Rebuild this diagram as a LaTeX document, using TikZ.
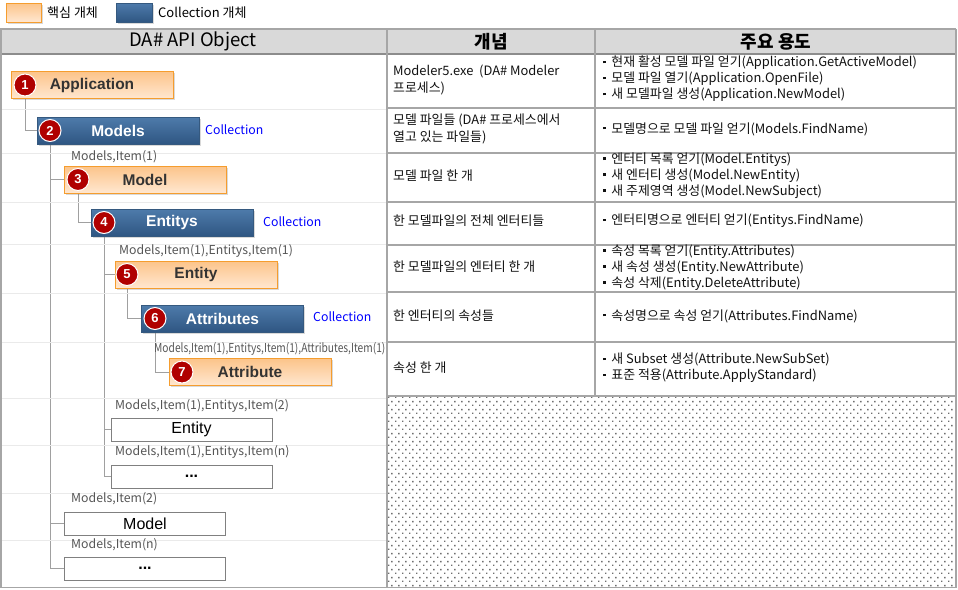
\documentclass[tikz,border=0pt]{standalone}
\usepackage{fontspec}
\usepackage{graphicx}
\setmainfont{Noto Sans CJK KR}
\newfontfamily\boxfont{Liberation Sans}
\usetikzlibrary{shadows,patterns,backgrounds}
\definecolor{orgB}{HTML}{F59D2E}
\definecolor{orgT}{HTML}{FCC48A}
\definecolor{orgBot}{HTML}{FFE7D0}
\definecolor{bluT}{HTML}{4E7BAB}
\definecolor{bluB}{HTML}{2F5682}
\definecolor{bluEdge}{HTML}{35597F}
\definecolor{numred}{HTML}{B00000}
\definecolor{linegray}{HTML}{A0A0A0}
\definecolor{tabline}{HTML}{A6A6A6}
\definecolor{hdrline}{HTML}{8C8C8C}
\definecolor{faint}{HTML}{EAEAEA}
\definecolor{hdr}{HTML}{D9D9D9}
\definecolor{pathgray}{HTML}{555555}
\definecolor{dotgray}{HTML}{6E6E6E}
\definecolor{txt}{HTML}{111111}
\definecolor{boxtxt}{HTML}{333333}
\definecolor{colblue}{HTML}{0000FF}
\pgfdeclarepatternformonly{tabledots}{\pgfqpoint{0pt}{0pt}}{\pgfqpoint{7.2pt}{7.6pt}}{\pgfqpoint{7.2pt}{7.6pt}}{%
  \pgfpathrectangle{\pgfqpoint{0pt}{0pt}}{\pgfqpoint{1.5pt}{1.5pt}}%
  \pgfpathrectangle{\pgfqpoint{3.6pt}{3.8pt}}{\pgfqpoint{1.5pt}{1.5pt}}%
  \pgfusepath{fill}}
\newcommand\blt{\rule[3.6pt]{2.7pt}{2.7pt}\hspace{5.5pt}}
\tikzset{
  corebox/.style={draw=orgB, line width=1pt, top color=orgT, bottom color=orgBot,
    minimum width=162pt, minimum height=27pt, inner sep=0pt,
    font=\boxfont\bfseries\fontsize{15.5}{18}\selectfont, text=boxtxt,
    drop shadow={shadow xshift=1.5pt, shadow yshift=-1.5pt, opacity=0.3}},
  collbox/.style={draw=bluEdge, line width=0.6pt, top color=bluT, bottom color=bluB,
    minimum width=162pt, minimum height=27pt, inner sep=0pt,
    font=\boxfont\bfseries\fontsize{15.5}{18}\selectfont, text=white,
    drop shadow={shadow xshift=1.5pt, shadow yshift=-1.5pt, opacity=0.3}},
  plainbox/.style={draw=gray, line width=1pt, fill=white,
    minimum width=161pt, minimum height=23pt, inner sep=0pt,
    font=\boxfont\fontsize{16}{18}\selectfont, text=black},
  numc/.style={circle, fill=numred, draw=white, line width=1pt, minimum size=22pt,
    inner sep=0pt, text=white, font=\boxfont\bfseries\fontsize{13}{13}\selectfont},
  conn/.style={draw=linegray, line width=1pt},
  pathlbl/.style={anchor=west, inner sep=0pt, text=pathgray, font=\fontsize{12.3}{13}\selectfont},
  colllbl/.style={anchor=west, inner sep=0pt, text=colblue, font=\fontsize{12.3}{14}\selectfont},
  cell/.style={anchor=west, inner sep=0pt, align=left, text=txt, font=\fontsize{12.9}{16}\selectfont},
  cellb/.style={anchor=west, inner sep=0pt, align=left, text=txt, font=\fontsize{12.9}{17}\selectfont},
  hdrtxt/.style={inner sep=0pt, text=black},
  legtxt/.style={anchor=west, inner sep=0pt, text=black, font=\fontsize{13}{14}\selectfont},
  tline/.style={draw=tabline, line width=1.5pt},
  fline/.style={draw=faint, line width=1pt}
}
\begin{document}
\begin{tikzpicture}[x=1pt,y=-1pt]
\useasboundingbox (0,0) rectangle (958,589);
% ---------- table ----------
\fill[hdr] (0,29) rectangle (956,54);
\fill[pattern=tabledots, pattern color=dotgray] (387,396) rectangle (956,587);
\foreach \yy in {109,153,202,244,293,342,398,445,493,540}{
  \draw[fline] (1,\yy) -- (386,\yy);
}
\foreach \yy in {108,153,202,245,292,342,396}{
  \draw[tline] (387,\yy) -- (956,\yy);
}
\draw[tline] (0,29) -- (956,29);
\draw[draw=hdrline, line width=1.5pt] (0,54) -- (956,54);
\draw[tline] (387,29) -- (387,588);
\draw[tline] (595,29) -- (595,396);
\draw[tline] (956,29) -- (956,588);
\draw[tline] (0.75,29) -- (0.75,588);
\draw[tline] (0,587.5) -- (956,587.5);
% header texts
\node[hdrtxt, font=\fontsize{18.5}{20}\selectfont] (h1) at (193,41.5) {DA\# API Object};
\node[hdrtxt, font=\bfseries\fontsize{18}{20}\selectfont] (h2) at (491,41.5) {개념};
\node[hdrtxt, font=\bfseries\fontsize{18}{20}\selectfont] (h3) at (776,41.5) {주요 용도};
% column 2 cells
\node[cellb] (c1a) at (393,79.5) {Modeler5.exe\ \ (DA\# Modeler\\프로세스)};
\node[cellb] (c2a) at (393,129) {모델 파일들 (DA\# 프로세스에서\\열고 있는 파일들)};
\node[cell] (c3a) at (393,176) {모델 파일 한 개};
\node[cell] (c4a) at (393,221) {한 모델파일의 전체 엔터티들};
\node[cell] (c5a) at (393,267) {한 모델파일의 엔터티 한 개};
\node[cell] (c6a) at (393,316) {한 엔터티의 속성들};
\node[cell] (c7a) at (393,368) {속성 한 개};
% column 3 cells
\node[cell] (c1b) at (603,79) {\blt 현재 활성 모델 파일 얻기(Application.GetActiveModel)\\\blt 모델 파일 열기(Application.OpenFile)\\\blt 새 모델파일 생성(Application.NewModel)};
\node[cell] (c2b) at (603,129) {\blt 모델명으로 모델 파일 얻기(Models.FindName)};
\node[cell] (c3b) at (603,176) {\blt 엔터티 목록 얻기(Model.Entitys)\\\blt 새 엔터티 생성(Model.NewEntity)\\\blt 새 주제영역 생성(Model.NewSubject)};
\node[cell] (c4b) at (603,221) {\blt 엔터티명으로 엔터티 얻기(Entitys.FindName)};
\node[cell] (c5b) at (603,267.5) {\blt 속성 목록 얻기(Entity.Attributes)\\\blt 새 속성 생성(Entity.NewAttribute)\\\blt 속성 삭제(Entity.DeleteAttribute)};
\node[cell] (c6b) at (603,316) {\blt 속성명으로 속성 얻기(Attributes.FindName)};
\node[cell] (c7b) at (603,368) {\blt 새 Subset 생성(Attribute.NewSubSet)\\\blt 표준 적용(Attribute.ApplyStandard)};
% ---------- legend ----------
\node[corebox, minimum width=35pt, minimum height=19pt] (leg1) at (23.5,12.5) {};
\node[legtxt] (leg1t) at (47,13) {핵심 개체};
\node[collbox, minimum width=36pt, minimum height=19pt] (leg2) at (134,12.5) {};
\node[legtxt] (leg2t) at (158,12.5) {Collection 개체};
% ---------- tree ----------
\node[corebox] (app) at (92,85) {Application};
\node[numc] (n1) at (25,85) {1};
\node[collbox] (models) at (118,130.5) {Models};
\node[numc] (n2) at (50,130.5) {2};
\node[corebox] (model1) at (145,179.5) {Model};
\node[numc] (n3) at (78,179.5) {3};
\node[collbox] (entitys) at (172,222.5) {Entitys};
\node[numc] (n4) at (104,222.5) {4};
\node[corebox] (entity1) at (196,274.5) {Entity};
\node[numc] (n5) at (127,274.5) {5};
\node[collbox] (attrs) at (222.5,318.5) {Attributes};
\node[numc] (n6) at (155,318.5) {6};
\node[corebox] (attr) at (250,372) {Attribute};
\node[numc] (n7) at (182,372) {7};
\node[plainbox] (entity2) at (191.5,429.5) {Entity};
\node[plainbox] (entityn) at (191.5,476.5) {\textbf{...}};
\node[plainbox] (model2) at (145,523.5) {Model};
\node[plainbox] (modeln) at (145,568.5) {\textbf{...}};
% path labels
\node[pathlbl] (l1) at (71,157) {Models,Item(1)};
\node[pathlbl] (l2) at (119,251) {Models,Item(1),Entitys,Item(1)};
\node[pathlbl] (l3) at (154,349) {\scalebox{0.83}[1]{Models,Item(1),Entitys,Item(1),Attributes,Item(1)}};
\node[pathlbl] (l4) at (115,406) {Models,Item(1),Entitys,Item(2)};
\node[pathlbl] (l5) at (115,452) {Models,Item(1),Entitys,Item(n)};
\node[pathlbl] (l6) at (71,499) {Models,Item(2)};
\node[pathlbl] (l7) at (71,545) {Models,Item(n)};
% collection labels
\node[colllbl] (k1) at (205,130) {Collection};
\node[colllbl] (k2) at (263,221.5) {Collection};
\node[colllbl] (k3) at (313,317) {Collection};
% connectors
\begin{pgfonlayer}{background}
\draw[conn] (n1.center) |- (models.west);
\draw[conn] (n2.center) |- (model1.west);
\draw[conn] (n2.center) |- (model2.west);
\draw[conn] (n2.center) |- (modeln.west);
\draw[conn] (n3.center) |- (entitys.west);
\draw[conn] (n4.center) |- (entity1.west);
\draw[conn] (n4.center) |- (entity2.west);
\draw[conn] (n4.center) |- (entityn.west);
\draw[conn] (n5.center) |- (attrs.west);
\draw[conn] (n6.center) |- (attr.west);
\end{pgfonlayer}
\end{tikzpicture}
\end{document}
